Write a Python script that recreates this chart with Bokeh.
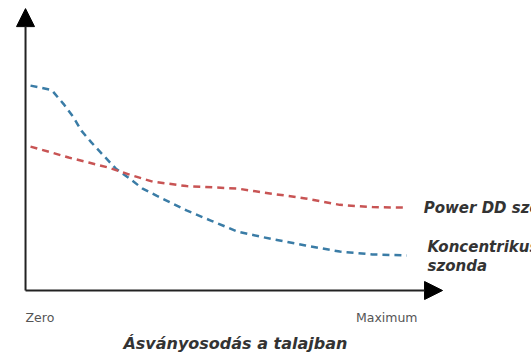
from bokeh.plotting import figure
from bokeh.models import Range1d, Arrow, NormalHead
from bokeh.core.properties import value
from bokeh.embed import file_html
from bokeh.resources import INLINE

# Mineralisation of the soil (0 = Zero, 100 = Maximum) vs. relative sensitivity
koncentrikus_x = [1.3, 6.8, 9.9, 12.5, 14.5, 17.1, 20.0, 23.4, 27.0, 30.4, 34.0, 41.8, 48.1, 55.1, 63.9, 72.7, 81.6, 90.1, 99.0]
koncentrikus_y = [73.2, 71.6, 66.6, 61.8, 57.1, 52.9, 48.6, 43.6, 40.0, 36.4, 33.9, 28.6, 25.0, 21.0, 18.4, 16.1, 13.9, 12.9, 12.5]

powerdd_x = [1.3, 6.8, 11.2, 16.4, 21.6, 27.0, 33.0, 41.8, 55.1, 63.9, 72.7, 81.6, 90.1, 99.0]
powerdd_y = [51.4, 49.3, 47.5, 45.7, 43.9, 41.4, 38.9, 37.3, 36.4, 34.6, 32.9, 30.6, 29.8, 29.6]

series_names = ["Power DD szonda", "Koncentrikus", "szonda"]
x_tick_labels = ["Zero", "Maximum"]
x_title = "Ásványosodás a talajban"

RED = "#c85454"
BLUE = "#3a7ca6"

p = figure(width=531, height=353, output_backend="svg", toolbar_location=None,
           x_range=Range1d(-6.5, 131.4), y_range=Range1d(-22.5, 103.6),
           min_border=0)
p.axis.visible = False
p.grid.visible = False
p.outline_line_color = None
p.background_fill_color = "white"
p.border_fill_color = "white"

# axes drawn as arrows
p.add_layout(Arrow(end=NormalHead(size=18, fill_color="black", line_color="black"),
                   x_start=0, y_start=0, x_end=108.3, y_end=0,
                   line_width=2, line_color="#222222"))
p.add_layout(Arrow(end=NormalHead(size=18, fill_color="black", line_color="black"),
                   x_start=0, y_start=0, x_end=0, y_end=100.7,
                   line_width=2, line_color="#222222"))

# curves
p.line(koncentrikus_x, koncentrikus_y, line_color=BLUE, line_width=2.5, line_dash="7 5")
p.line(powerdd_x, powerdd_y, line_color=RED, line_width=2.5, line_dash="7 5")

font = value("DejaVu Sans")

# series labels at end of curves
p.text(x=[103.4], y=[powerdd_y[-1]], text=[series_names[0]], text_font=font,
       text_font_size="15px", text_font_style="bold italic", text_color="#333333",
       text_baseline="middle", text_align="left")
p.text(x=[104.4, 104.4], y=[koncentrikus_y[-1] + 2.9, koncentrikus_y[-1] - 3.6],
       text=series_names[1:], text_font=font,
       text_font_size="15px", text_font_style="bold italic", text_color="#333333",
       text_baseline="middle", text_align="left")

# x tick labels
p.text(x=[0], y=[-9.6], text=[x_tick_labels[0]], text_font=font, text_font_size="12.5px",
       text_color="#555555", text_baseline="middle", text_align="left")
p.text(x=[101.8], y=[-9.6], text=[x_tick_labels[1]], text_font=font, text_font_size="12.5px",
       text_color="#555555", text_baseline="middle", text_align="right")

# x title
p.text(x=[54.5], y=[-18.9], text=[x_title], text_font=font, text_font_size="16px",
       text_font_style="bold italic", text_color="#333333",
       text_baseline="middle", text_align="center")

open("out.html", "w").write(file_html(p, INLINE))
